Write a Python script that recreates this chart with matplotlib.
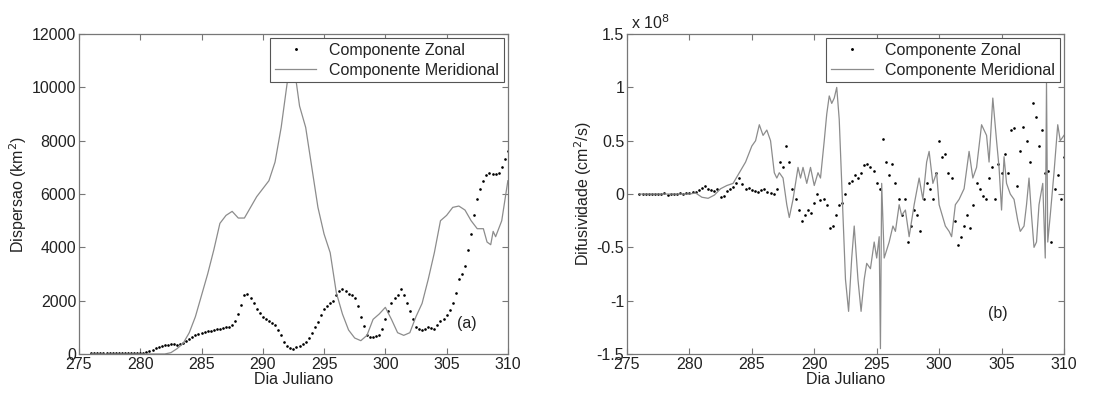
import numpy as np
import matplotlib.pyplot as plt
from matplotlib.ticker import FormatStrFormatter

plt.rcParams['font.family'] = ['Liberation Sans', 'DejaVu Sans']
plt.rcParams['axes.unicode_minus'] = False

# ---- panel (a): dispersion (km^2) ----
# zonal component, one value every 0.25 day from 276 to 310
disp_zonal_days = np.arange(276, 310.01, 0.25)
disp_zonal = [
    20, 20, 20, 20, 20, 20, 20, 20, 20, 20, 20, 20, 20, 20, 25, 25,   # 276-279.75
    30, 50, 80, 110, 150, 220, 280, 300, 320, 350, 370, 360, 330, 380, 420, 480,  # 280-283.75
    550, 630, 700, 740, 780, 820, 850, 870, 900, 930, 950, 980, 1000, 1030, 1100, 1250,  # 284-287.75
    1500, 1850, 2200, 2250, 2100, 1900, 1700, 1550, 1400, 1320, 1250, 1180, 1100, 900, 700, 450,  # 288-291.75
    300, 230, 200, 250, 300, 370, 450, 600, 800, 1000, 1200, 1450, 1700, 1800, 1900, 2000,  # 292-295.75
    2200, 2350, 2450, 2350, 2250, 2200, 2100, 1800, 1400, 1050, 700, 650, 650, 680, 700, 950,  # 296-299.75
    1300, 1600, 1900, 2100, 2200, 2450, 2200, 1900, 1600, 1300, 1000, 920, 900, 950, 1000, 980,  # 300-303.75
    950, 1100, 1250, 1300, 1450, 1650, 1900, 2300, 2800, 3000, 3300, 3900, 4500, 5200, 5800, 6200,  # 304-307.75
    6500, 6700, 6800, 6750, 6750, 6800, 7000, 7300, 7600,  # 308-310
]
disp_merid_days = [276, 282, 282.5, 283, 283.5, 284, 284.5, 285, 285.5, 286, 286.5, 287, 287.5,
                   288, 288.5, 289, 289.5, 290, 290.5, 291, 291.5, 292, 292.3, 292.7, 293,
                   293.5, 294, 294.5, 295, 295.5, 296, 296.5, 297, 297.5, 298, 298.5, 299,
                   299.5, 300, 300.5, 301, 301.5, 302, 302.5, 303, 303.5, 304, 304.5, 305,
                   305.5, 306, 306.5, 307, 307.5, 308, 308.3, 308.6, 308.8, 309, 309.5, 310]
disp_merid = [0, 0, 50, 200, 400, 800, 1400, 2200, 3000, 3900, 4900, 5200, 5350,
              5100, 5100, 5500, 5900, 6200, 6500, 7200, 8500, 10200, 11500, 10300, 9300,
              8500, 7000, 5500, 4500, 3800, 2300, 1500, 900, 600, 500, 700, 1300,
              1500, 1750, 1300, 800, 700, 800, 1400, 1900, 2800, 3800, 5000, 5200,
              5500, 5550, 5400, 5000, 4700, 4700, 4200, 4100, 4600, 4400, 5000, 6500]

# ---- panel (b): diffusivity (x 1e8 cm^2/s) ----
dif_zonal_days = np.arange(276, 310.01, 0.25)
dif_zonal = [
    0.0, 0.0, 0.0, 0.0, 0.0, 0.0, 0.0, 0.0, 0.01, -0.01, 0.0, 0.0, 0.0, 0.01, 0.0, 0.01,  # 276-279.75
    0.01, 0.02, 0.02, 0.04, 0.06, 0.08, 0.05, 0.04, 0.03, 0.05, -0.03, -0.02, 0.03, 0.05, 0.07, 0.10,  # 280-283.75
    0.15, 0.09, 0.05, 0.06, 0.04, 0.03, 0.02, 0.04, 0.05, 0.02, 0.01, 0.0, 0.05, 0.30, 0.25, 0.45,  # 284-287.75
    0.30, 0.05, -0.05, -0.15, -0.25, -0.20, -0.15, -0.18, -0.08, 0.0, -0.06, -0.05, -0.10, -0.32, -0.30, -0.20,  # 288-291.75
    -0.10, -0.08, 0.0, 0.10, 0.12, 0.18, 0.15, 0.20, 0.27, 0.28, 0.25, 0.22, 0.10, 0.05, 0.52, 0.30,  # 292-295.75
    0.18, 0.28, 0.10, -0.05, -0.20, -0.05, -0.45, -0.30, -0.15, -0.20, -0.35, -0.05, 0.10, 0.05, -0.05, 0.20,  # 296-299.75
    0.50, 0.35, 0.38, 0.20, 0.15, -0.25, -0.48, -0.40, -0.30, -0.20, -0.32, -0.10, 0.10, 0.05, -0.02, -0.05,  # 300-303.75
    0.15, 0.25, -0.05, 0.28, 0.20, 0.38, 0.20, 0.60, 0.62, 0.08, 0.40, 0.63, 0.50, 0.30, 0.85, 0.72,  # 304-307.75
    0.45, 0.60, 0.20, 0.22, -0.45, 0.05, 0.18, -0.05, 0.35,  # 308-310
]
dif_merid_days = [276, 280, 280.5, 281, 281.5, 282, 282.5, 283, 283.5, 284, 284.5, 285, 285.3,
                  285.6, 285.9, 286.2, 286.5, 286.8, 287, 287.2, 287.5, 287.8, 288, 288.3,
                  288.5, 288.7, 288.9, 289.1, 289.4, 289.7, 290, 290.3, 290.5, 290.8, 291,
                  291.2, 291.4, 291.6, 291.8, 292, 292.3, 292.5, 292.75, 293, 293.2, 293.5,
                  293.75, 294, 294.2, 294.5, 294.8, 295, 295.2, 295.3, 295.4, 295.6, 296,
                  296.3, 296.5, 296.8, 297, 297.3, 297.6, 298, 298.4, 298.7, 299, 299.2,
                  299.5, 299.8, 300, 300.5, 300.8, 301, 301.3, 301.6, 302, 302.4, 302.7,
                  303, 303.4, 303.8, 304, 304.3, 304.6, 304.8, 305, 305.2, 305.4, 305.7,
                  306, 306.3, 306.5, 306.8, 307, 307.2, 307.4, 307.6, 307.8, 308, 308.3,
                  308.5, 308.6, 308.7, 308.9, 309.2, 309.5, 309.7, 310]
dif_merid = [0.0, 0.0, 0.01, -0.03, -0.04, -0.01, 0.05, 0.08, 0.10, 0.20, 0.30, 0.45, 0.50,
             0.65, 0.55, 0.60, 0.50, 0.20, 0.15, 0.20, 0.15, -0.10, -0.22, -0.05,
             0.10, 0.25, 0.15, 0.25, 0.10, 0.25, 0.08, 0.20, 0.15, 0.50, 0.75,
             0.92, 0.85, 0.90, 1.00, 0.70, -0.20, -0.80, -1.10, -0.60, -0.30, -0.80,
             -1.10, -0.80, -0.65, -0.70, -0.45, -0.60, -0.40, -1.45, 0.10, -0.60, -0.45,
             -0.30, -0.35, -0.10, -0.20, -0.15, -0.40, -0.10, 0.15, -0.05, 0.30, 0.40,
             0.10, 0.20, -0.10, -0.30, -0.35, -0.40, -0.10, -0.05, 0.05, 0.40, 0.15,
             0.25, 0.65, 0.55, 0.30, 0.90, 0.50, 0.25, -0.15, 0.35, 0.10, 0.0,
             -0.05, -0.25, -0.35, -0.30, -0.10, 0.15, -0.20, -0.50, -0.45, -0.10, 0.10,
             -0.60, 1.05, -0.45, -0.20, 0.20, 0.65, 0.50, 0.55]

xticks = [275, 280, 285, 290, 295, 300, 305, 310]
grey = '#8c8c8c'
txt = '#222222'
fs = 11.5

fig = plt.figure(figsize=(11.14, 3.94), dpi=100)
ax1 = fig.add_axes([0.0709, 0.1015, 0.385, 0.812])
ax2 = fig.add_axes([0.5628, 0.1015, 0.3923, 0.812])


def style(ax):
    ax.set_xlim(275, 310)
    ax.set_xticks(xticks)
    ax.tick_params(direction='in', top=True, right=True, length=4, width=0.8,
                   color='#777777', labelsize=fs, labelcolor=txt, pad=2)
    for s in ax.spines.values():
        s.set_color('#777777')
        s.set_linewidth(0.9)
    ax.set_xlabel('Dia Juliano', fontsize=fs, color=txt, labelpad=0)


ax1.plot(disp_zonal_days, disp_zonal, '.', color='black', markersize=1.8, label='Componente Zonal')
ax1.plot(disp_merid_days, disp_merid, '-', color=grey, linewidth=0.9, label='Componente Meridional')
ax1.set_ylim(0, 12000)
ax1.set_yticks(range(0, 12001, 2000))
style(ax1)
ax1.set_ylabel('Dispersao (km$^2$)', fontsize=fs, color=txt, labelpad=2)
ax1.text(0.905, 0.095, '(a)', transform=ax1.transAxes, fontsize=fs, color=txt,
         ha='center', va='center')

ax2.plot(dif_zonal_days, dif_zonal, '.', color='black', markersize=1.8, label='Componente Zonal')
ax2.plot(dif_merid_days, dif_merid, '-', color=grey, linewidth=0.9, label='Componente Meridional')
ax2.set_ylim(-1.5, 1.5)
ax2.set_yticks([-1.5, -1, -0.5, 0, 0.5, 1, 1.5])
ax2.yaxis.set_major_formatter(FormatStrFormatter('%g'))
style(ax2)
ax2.set_ylabel('Difusividade (cm$^2$/s)', fontsize=fs, color=txt, labelpad=2)
ax2.text(0.0, 1.005, ' x 10$^8$', transform=ax2.transAxes, fontsize=fs, color=txt,
         ha='left', va='bottom')
ax2.text(0.849, 0.128, '(b)', transform=ax2.transAxes, fontsize=fs, color=txt,
         ha='center', va='center')

for ax in (ax1, ax2):
    leg = ax.legend(loc='upper right', fontsize=fs, fancybox=False, framealpha=1,
                    edgecolor='#555555', borderaxespad=0.25, handlelength=2.6,
                    borderpad=0.3, labelspacing=0.3, markerscale=1.2)
    leg.get_frame().set_linewidth(0.8)
    for t in leg.get_texts():
        t.set_color(txt)

plt.savefig('out.png', dpi=100)
